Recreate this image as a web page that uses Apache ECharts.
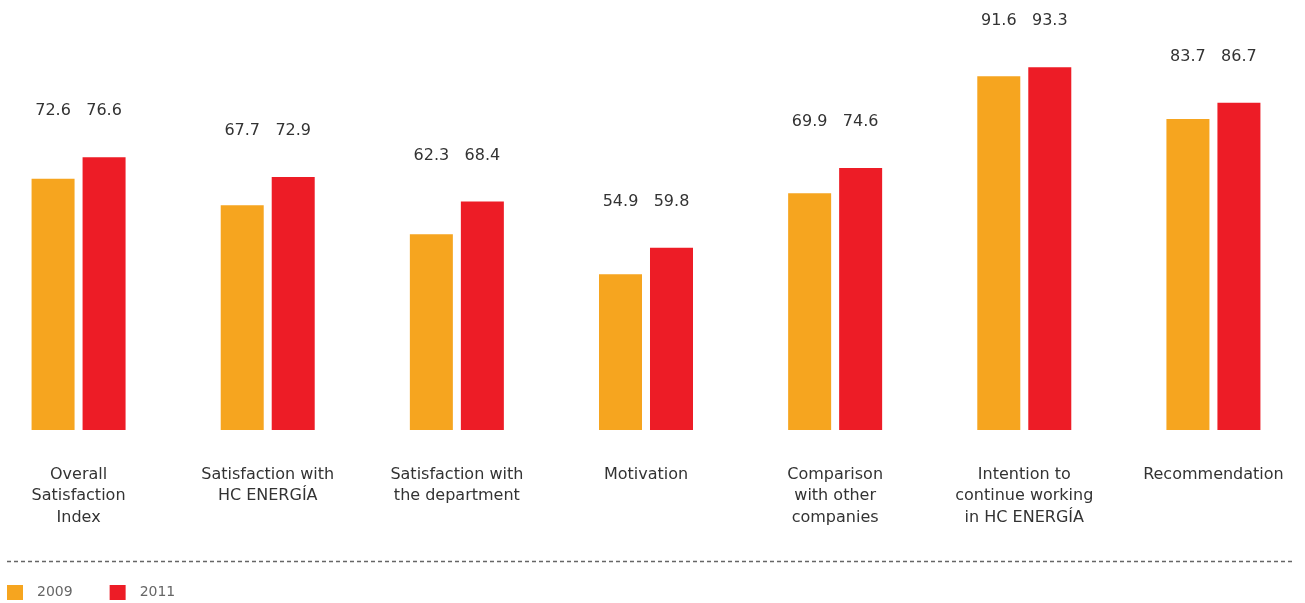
<!DOCTYPE html>
<html>
<head>
<meta charset="utf-8">
<script src="https://cdn.jsdelivr.net/npm/echarts@6/dist/echarts.min.js"></script>
<style>
  html, body { margin: 0; padding: 0; background: #fff; overflow: hidden; }
  /* the plot runs a little past the page edges, so the canvas does too */
  #chart { width: 1340px; height: 603px; margin-left: -16px; }
</style>
</head>
<body>
<div id="chart"></div>
<script>
const categories = [
  "Overall\nSatisfaction\nIndex",
  "Satisfaction with\nHC ENERGÍA",
  "Satisfaction with\nthe department",
  "Motivation",
  "Comparison\nwith other\ncompanies",
  "Intention to\ncontinue working\nin HC ENERGÍA",
  "Recommendation"
];
const values2009 = [72.6, 67.7, 62.3, 54.9, 69.9, 91.6, 83.7];
const values2011 = [76.6, 72.9, 68.4, 59.8, 74.6, 93.3, 86.7];

const fontFamily = "DejaVu Sans";
const colorText = "#333";
const shift = 16;

const chart = echarts.init(document.getElementById("chart"));

const labelStyle = {
  show: true,
  position: "top",
  distance: 38,
  fontFamily: fontFamily,
  fontSize: 16,
  color: colorText
};

const option = {
  animation: false,
  grid: { left: 0, width: 1324, top: 31, bottom: 173, containLabel: false },
  legend: {
    left: 7 + shift,
    top: 585,
    padding: 0,
    itemWidth: 16,
    itemHeight: 15,
    itemGap: 37,
    icon: "rect",
    textStyle: { fontFamily: fontFamily, fontSize: 14, color: "#666", padding: [0, 0, 0, 9] },
    data: ["2009", "2011"]
  },
  xAxis: {
    type: "category",
    data: categories,
    axisLine: { show: false },
    axisTick: { show: false },
    axisLabel: {
      interval: 0,
      margin: 34,
      fontFamily: fontFamily,
      fontSize: 16,
      lineHeight: 21.5,
      color: colorText
    }
  },
  yAxis: {
    type: "value",
    min: 26,
    max: 100,
    show: false
  },
  series: [
    {
      name: "2009",
      type: "bar",
      barWidth: 43,
      barGap: "18.6%",
      itemStyle: { color: "#F6A51F" },
      label: labelStyle,
      data: values2009
    },
    {
      name: "2011",
      type: "bar",
      barWidth: 43,
      itemStyle: { color: "#ED1C26" },
      label: labelStyle,
      data: values2011
    }
  ],
  graphic: [
    {
      type: "line",
      shape: { x1: 7 + shift, y1: 561.5, x2: 1293 + shift, y2: 561.5 },
      style: { stroke: "#666", lineWidth: 1.5, lineDash: [4, 3] }
    }
  ]
};

chart.setOption(option);

// put both value labels of a group at the height of the taller bar
const lifted = values2009.map((v, i) => {
  const top = Math.max(v, values2011[i]);
  const yOwn = chart.convertToPixel({ gridIndex: 0 }, [i, v])[1];
  const yTop = chart.convertToPixel({ gridIndex: 0 }, [i, top])[1];
  return { value: v, label: { offset: [0, yTop - yOwn] } };
});
chart.setOption({ series: [{ name: "2009", data: lifted }] });
</script>
</body>
</html>
